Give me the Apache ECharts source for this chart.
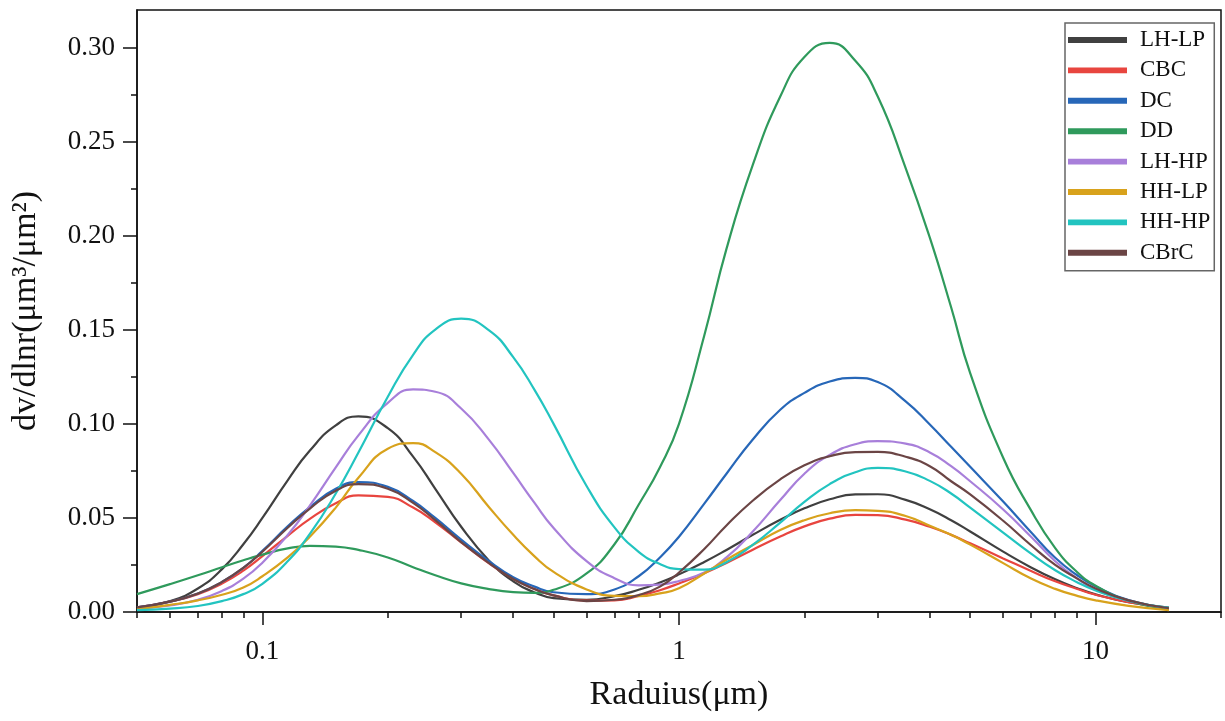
<!DOCTYPE html>
<html>
<head>
<meta charset="utf-8">
<script src="https://cdn.jsdelivr.net/npm/echarts@6/dist/echarts.min.js"></script>
<style>
html,body{margin:0;padding:0;background:#fff;}
#chart{width:1225px;height:721px;}
</style>
</head>
<body>
<div id="chart"></div>
<script>
// Radius sample points (μm)
const radius = [0.05, 0.06, 0.07, 0.08, 0.09, 0.1, 0.115, 0.13, 0.15, 0.17, 0.2, 0.23, 0.26, 0.3, 0.35, 0.4, 0.45, 0.5, 0.6, 0.7, 0.8, 0.9, 1, 1.15, 1.3, 1.5, 1.75, 2, 2.3, 2.65, 3, 3.5, 4, 4.5, 5, 6, 7, 8, 9, 10, 12, 15];

const seriesNames = ['LH-LP', 'CBC', 'DC', 'DD', 'LH-HP', 'HH-LP', 'HH-HP', 'CBrC'];

const lhLP = [0.0022, 0.0058, 0.0125, 0.0228, 0.036, 0.050, 0.0700, 0.0858, 0.0992, 0.104, 0.0977, 0.0826, 0.0655, 0.0453, 0.0273, 0.0163, 0.0104, 0.0074, 0.0065, 0.0084, 0.0118, 0.0157, 0.020, 0.0266, 0.033, 0.0409, 0.049, 0.0551, 0.0599, 0.0625, 0.0626, 0.0596, 0.0546, 0.0488, 0.0428, 0.0321, 0.0237, 0.0174, 0.0128, 0.0094, 0.0052, 0.0023];
const cbc = [0.0025, 0.0055, 0.0095, 0.0152, 0.022, 0.0297, 0.0405, 0.0495, 0.0578, 0.062, 0.0612, 0.0555, 0.0477, 0.037, 0.0258, 0.0177, 0.0122, 0.0088, 0.006, 0.0062, 0.0085, 0.0116, 0.0152, 0.0206, 0.0261, 0.033, 0.0401, 0.0455, 0.0496, 0.0516, 0.0515, 0.0491, 0.0453, 0.041, 0.0365, 0.0285, 0.0218, 0.0163, 0.0124, 0.0092, 0.0052, 0.0018];
const dc = [0.0025, 0.0055, 0.0098, 0.016, 0.0235, 0.0325, 0.0455, 0.0558, 0.0655, 0.069, 0.0665, 0.059, 0.050, 0.0385, 0.027, 0.0185, 0.0135, 0.0105, 0.0095, 0.012, 0.019, 0.029, 0.040, 0.0576, 0.0735, 0.0914, 0.1075, 0.1165, 0.1225, 0.1245, 0.1222, 0.112, 0.0997, 0.0878, 0.0772, 0.0587, 0.0424, 0.0288, 0.0198, 0.0137, 0.0063, 0.002];
const dd = [0.0095, 0.0148, 0.0195, 0.0238, 0.0275, 0.0305, 0.0338, 0.0352, 0.0348, 0.0330, 0.0290, 0.0238, 0.0195, 0.0152, 0.0122, 0.0106, 0.0102, 0.0118, 0.0205, 0.036, 0.057, 0.077, 0.100, 0.147, 0.193, 0.237, 0.274, 0.295, 0.3025, 0.293, 0.274, 0.236, 0.199, 0.162, 0.127, 0.082, 0.054, 0.034, 0.0215, 0.014, 0.006, 0.0015];
const lhHP = [0.0018, 0.0035, 0.0065, 0.0112, 0.0177, 0.0262, 0.0409, 0.0566, 0.0769, 0.0939, 0.1112, 0.1183, 0.1171, 0.1082, 0.0915, 0.0739, 0.058, 0.0447, 0.027, 0.018, 0.0142, 0.0146, 0.0165, 0.021, 0.029, 0.0425, 0.0595, 0.0735, 0.0835, 0.0892, 0.0908, 0.0895, 0.0848, 0.0775, 0.0695, 0.0545, 0.040, 0.027, 0.018, 0.012, 0.006, 0.002];
const hhLP = [0.0015, 0.0038, 0.0062, 0.0092, 0.013, 0.019, 0.029, 0.040, 0.0555, 0.0714, 0.0868, 0.0898, 0.085, 0.0735, 0.0557, 0.041, 0.0296, 0.0213, 0.012, 0.0086, 0.0084, 0.0099, 0.0126, 0.0205, 0.0278, 0.0355, 0.0436, 0.0488, 0.0525, 0.0541, 0.0538, 0.051, 0.0458, 0.041, 0.0358, 0.026, 0.0178, 0.0123, 0.0087, 0.0062, 0.0033, 0.001];
const hhHP = [0.001, 0.0018, 0.0032, 0.0058, 0.0095, 0.015, 0.0270, 0.0415, 0.063, 0.0848, 0.1144, 0.1367, 0.1501, 0.156, 0.1497, 0.1355, 0.1181, 0.100, 0.067, 0.045, 0.032, 0.0255, 0.0228, 0.0225, 0.0265, 0.0355, 0.0475, 0.0585, 0.068, 0.0743, 0.0766, 0.0747, 0.0697, 0.063, 0.0555, 0.0422, 0.031, 0.0222, 0.016, 0.0115, 0.006, 0.0022];
const cbrc = [0.0025, 0.0055, 0.0098, 0.016, 0.0235, 0.032, 0.0448, 0.055, 0.0645, 0.068, 0.0655, 0.058, 0.0488, 0.0372, 0.026, 0.0175, 0.0122, 0.0088, 0.0058, 0.0065, 0.009, 0.0135, 0.021, 0.0335, 0.046, 0.059, 0.0705, 0.078, 0.0828, 0.085, 0.0851, 0.0825, 0.0775, 0.0695, 0.0625, 0.0485, 0.0355, 0.025, 0.018, 0.0125, 0.0062, 0.002];

const seriesValues = [lhLP, cbc, dc, dd, lhHP, hhLP, hhHP, cbrc];
const seriesColors = ['#404040', '#e8453f', '#2767b8', '#2f9a5c', '#a87fda', '#d8a21c', '#22c4c0', '#6b4545'];

const xMajorTicks = [0.1, 1, 10];
const xMinorTicks = [0.05, 0.06, 0.07, 0.08, 0.09, 0.2, 0.3, 0.4, 0.5, 0.6, 0.7, 0.8, 0.9, 2, 3, 4, 5, 6, 7, 8, 9, 20];
const yMajorTicks = [0, 0.05, 0.1, 0.15, 0.2, 0.25, 0.3];
const yMinorTicks = [0.025, 0.075, 0.125, 0.175, 0.225, 0.275];

const FONT = 'Liberation Serif';

const chart = echarts.init(document.getElementById('chart'), null, {renderer: 'canvas'});

const series = seriesNames.map((name, i) => ({
  name: name,
  type: 'line',
  smooth: 0.5,
  symbol: 'none',
  xAxisIndex: 0,
  yAxisIndex: 0,
  data: radius.map((r, j) => [r, seriesValues[i][j]]),
  lineStyle: {width: 2.2, color: seriesColors[i]},
  itemStyle: {color: seriesColors[i]}
}));

chart.setOption({
  animation: false,
  backgroundColor: '#fff',
  grid: {left: 137, right: 4, top: 10, bottom: 109, show: true, borderColor: '#111', borderWidth: 1.5, backgroundColor: 'transparent'},
  legend: {
    orient: 'vertical',
    left: 1065, top: 23,
    itemWidth: 59, itemHeight: 14, itemGap: 6.4,
    padding: [5, 4, 6, 3],
    borderColor: '#666', borderWidth: 1.5,
    icon: 'path://M0,0H10V1H0Z',
    textStyle: {fontFamily: FONT, fontSize: 23, color: '#111', lineHeight: 24, padding: [0, 0, 0, 8]},
    data: seriesNames
  },
  xAxis: [{
    type: 'log', logBase: 10, min: 0.05, max: 20,
    name: 'Raduius(μm)', nameLocation: 'middle', nameGap: 66,
    nameTextStyle: {fontFamily: FONT, fontSize: 34, color: '#111'},
    axisLine: {lineStyle: {color: '#111', width: 1.5}},
    axisTick: {show: true, inside: false, length: 13, lineStyle: {color: '#111', width: 1.5}, customValues: xMajorTicks},
    axisLabel: {fontFamily: FONT, fontSize: 27, color: '#111', margin: 26, customValues: xMajorTicks,
      formatter: v => String(v)},
    splitLine: {show: false}
  }, {
    type: 'log', logBase: 10, min: 0.05, max: 20, position: 'bottom',
    axisLine: {show: false},
    axisTick: {show: true, inside: false, length: 6, lineStyle: {color: '#111', width: 1.5}, customValues: xMinorTicks},
    axisLabel: {show: false},
    splitLine: {show: false}
  }],
  yAxis: [{
    type: 'value', min: 0, max: 0.32, interval: 0.05,
    name: 'dv/dlnr(μm³/μm²)', nameLocation: 'middle', nameGap: 94,
    nameTextStyle: {fontFamily: FONT, fontSize: 34, color: '#111'},
    axisLine: {show: true, lineStyle: {color: '#111', width: 1.5}},
    axisTick: {show: true, inside: false, length: 14, lineStyle: {color: '#111', width: 1.5}, customValues: yMajorTicks},
    axisLabel: {fontFamily: FONT, fontSize: 27, color: '#111', margin: 22, customValues: yMajorTicks,
      formatter: v => v.toFixed(2)},
    splitLine: {show: false}
  }, {
    type: 'value', min: 0, max: 0.32, position: 'left',
    axisLine: {show: false},
    axisTick: {show: true, inside: false, length: 6, lineStyle: {color: '#111', width: 1.5}, customValues: yMinorTicks},
    axisLabel: {show: false},
    splitLine: {show: false}
  }],
  series: series
});
</script>
</body>
</html>
